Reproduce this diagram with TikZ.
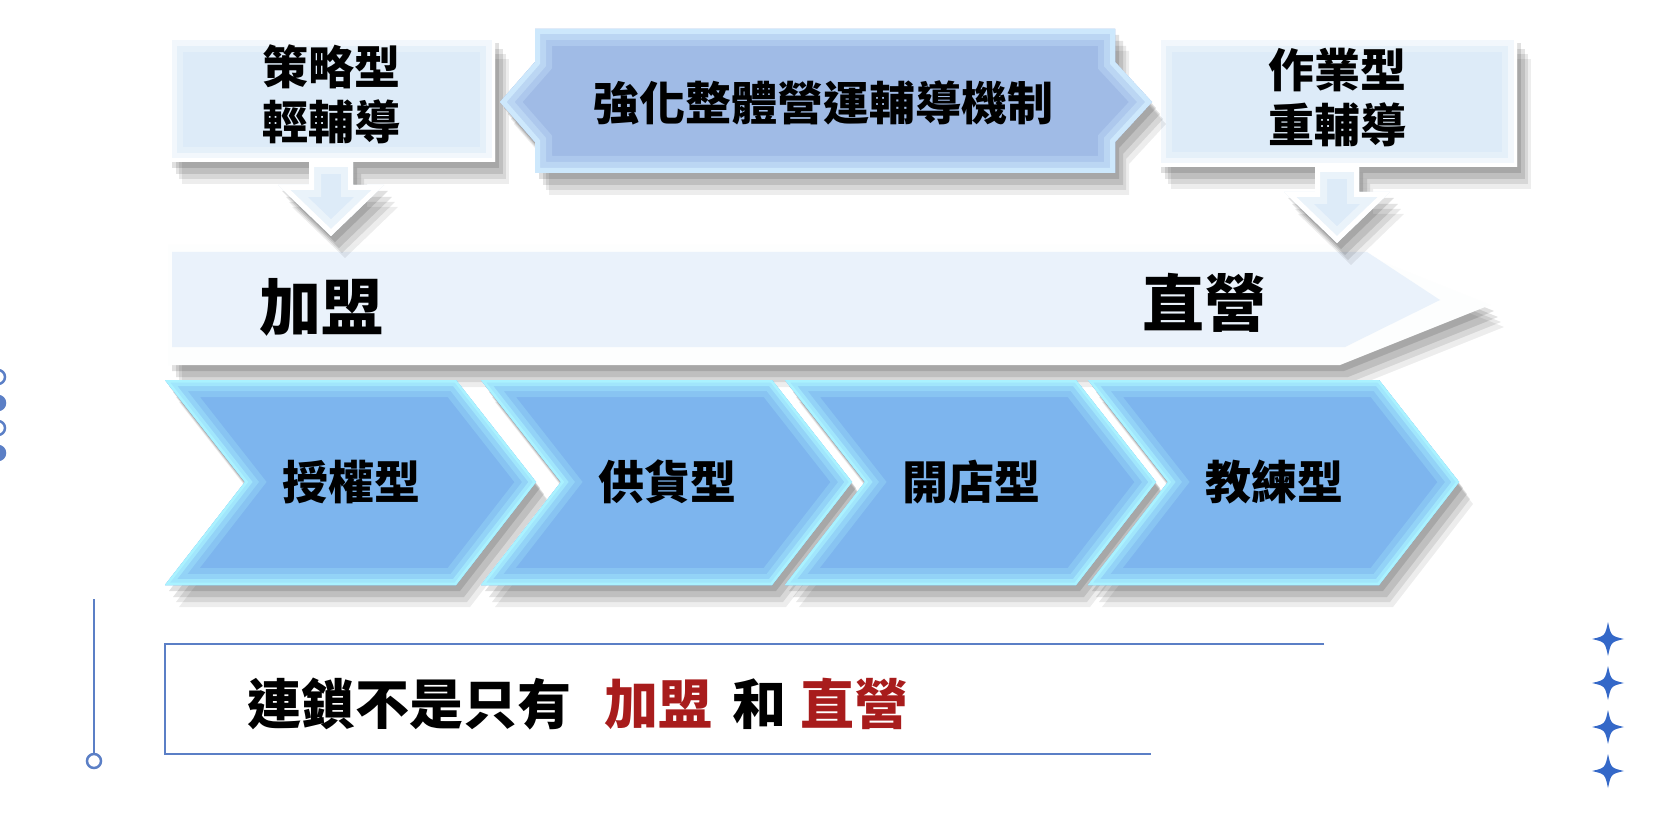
\documentclass[tikz,border=0pt]{standalone}
\usepackage{fontspec}
\setmainfont{Noto Sans CJK TC}
\usetikzlibrary{shadows}
\definecolor{chevblue}{RGB}{125,181,238}
\definecolor{chevrim}{RGB}{170,242,255}
\definecolor{midblue}{RGB}{160,187,230}
\definecolor{midrim}{RGB}{205,232,252}
\definecolor{paleblue}{RGB}{221,235,248}
\definecolor{bandblue}{RGB}{234,242,251}
\definecolor{lineblue}{RGB}{91,127,198}
\definecolor{starblue}{RGB}{52,104,200}
\definecolor{myred}{RGB}{168,28,28}

\newcommand{\chevpath}[1]{(#1,380) -- ++(291,0) -- ++(80,102) -- ++(-80,103) -- ++(-291,0) -- ++(80,-103) -- cycle}
\newcommand{\midpath}{(535,29) -- (1115,29) -- (1115,62) -- (1152,102) -- (1115,142) -- (1115,173) -- (535,173) -- (535,142) -- (500,102) -- (535,62) -- cycle}

\tikzset{
  softshadow/.style={drop shadow={shadow xshift=14pt, shadow yshift=-22pt, opacity=.07, fill=black},
                     drop shadow={shadow xshift=11pt, shadow yshift=-17pt, opacity=.09, fill=black},
                     drop shadow={shadow xshift=8pt, shadow yshift=-12pt, opacity=.11, fill=black},
                     drop shadow={shadow xshift=4pt, shadow yshift=-6pt, opacity=.12, fill=black}},
  boxtext/.style={font=\bfseries\fontsize{46}{55}\selectfont, align=center, inner sep=0pt},
  bigtext/.style={font=\bfseries\fontsize{62}{70}\selectfont, inner sep=0pt},
  deco/.style={draw=lineblue, line width=2.5pt},
}

\begin{document}
\begin{tikzpicture}[x=1pt, y=-1pt]
\useasboundingbox (0,0) rectangle (1668,834);
\fill[white] (0,0) rectangle (1668,834);

% band from franchise to direct
\path[softshadow] (168,245) -- (1340,245) -- (1490,305) -- (1340,365) -- (168,365) -- cycle;
\fill[white!94!paleblue] (168,245) -- (1340,245) -- (1490,305) -- (1340,365) -- (168,365) -- cycle;
\fill[bandblue] (172,252) -- (1367,252) -- (1440,300) -- (1345,347) -- (172,347) -- cycle;
\node[bigtext] (join) at (321,307) {加盟};
\node[bigtext] (direct) at (1204,303) {直營};

% chevrons
\foreach \x/\name [count=\i] in {165/授權型,481/供貨型,785/開店型,1088/教練型} {
  \path[softshadow] \chevpath{\x};
  \begin{scope}
    \clip \chevpath{\x};
    \fill[chevblue] \chevpath{\x};
    \draw[chevrim!25!chevblue, line width=34pt] \chevpath{\x};
    \draw[chevrim!50!chevblue, line width=22pt] \chevpath{\x};
    \draw[chevrim!80!chevblue, line width=12pt] \chevpath{\x};
    \draw[chevrim, line width=5pt] \chevpath{\x};
  \end{scope}
  \node[boxtext] (chev\i) at (\x+186,482) {\name};
}

% light coaching box
\path[softshadow] (168,37) rectangle (495,162);
\begin{scope}
  \clip (168,37) rectangle (495,162);
  \fill[paleblue] (168,37) rectangle (495,162);
  \draw[white, line width=30pt, opacity=.25] (168,37) rectangle (495,162);
  \draw[white, line width=18pt, opacity=.5] (168,37) rectangle (495,162);
  \draw[white, line width=7pt] (168,37) rectangle (495,162);
\end{scope}
\node[boxtext] (strat) at (331,94) {策略型\\輕輔導};

% heavy coaching box
\path[softshadow] (1157,37) rectangle (1517,167);
\begin{scope}
  \clip (1157,37) rectangle (1517,167);
  \fill[paleblue] (1157,37) rectangle (1517,167);
  \draw[white, line width=30pt, opacity=.25] (1157,37) rectangle (1517,167);
  \draw[white, line width=18pt, opacity=.5] (1157,37) rectangle (1517,167);
  \draw[white, line width=7pt] (1157,37) rectangle (1517,167);
\end{scope}
\node[boxtext] (oper) at (1337,98) {作業型\\重輔導};

% middle double arrow
\path[softshadow] \midpath;
\begin{scope}
  \clip \midpath;
  \fill[midblue] \midpath;
  \draw[midrim!30!midblue, line width=34pt] \midpath;
  \draw[midrim!60!midblue, line width=22pt] \midpath;
  \draw[midrim, line width=10pt] \midpath;
\end{scope}
\node[boxtext] (mech) at (823,103) {強化整體營運輔導機制};

% down arrows
\foreach \cx/\top/\base/\tip in {331/162/185/236, 1337/167/192/243} {
  \path[softshadow] (\cx-22,\top) -- (\cx+22,\top) -- (\cx+22,\base) -- (\cx+53,\base) -- (\cx,\tip) -- (\cx-53,\base) -- (\cx-22,\base) -- cycle;
  \begin{scope}
    \clip (\cx-22,\top) -- (\cx+22,\top) -- (\cx+22,\base) -- (\cx+53,\base) -- (\cx,\tip) -- (\cx-53,\base) -- (\cx-22,\base) -- cycle;
    \fill[paleblue] (\cx-60,\top) rectangle (\cx+60,\tip);
    \draw[white, line width=24pt, opacity=.4] (\cx-22,\top) -- (\cx+22,\top) -- (\cx+22,\base) -- (\cx+53,\base) -- (\cx,\tip) -- (\cx-53,\base) -- (\cx-22,\base) -- cycle;
    \draw[white, line width=10pt] (\cx-22,\top) -- (\cx+22,\top) -- (\cx+22,\base) -- (\cx+53,\base) -- (\cx,\tip) -- (\cx-53,\base) -- (\cx-22,\base) -- cycle;
  \end{scope}
}

% bottom frame
\coordinate (fa) at (1324,644);
\coordinate (fb) at (165,644);
\coordinate (fc) at (165,754);
\coordinate (fd) at (1151,754);
\draw[deco] (fa) -- (fb) -- (fc) -- (fd);
\coordinate (va) at (94,599);
\coordinate (vb) at (94,754);
\draw[deco] (va) -- (vb);
\draw[deco, fill=white] (94,761) circle (7);
\node[font=\bfseries\fontsize{54}{60}\selectfont, anchor=west, inner sep=0pt] (motto) at (247,704)
  {連鎖不是只有\hspace{33pt}\textcolor{myred}{加盟}\hspace{20pt}和\hspace{14pt}\textcolor{myred}{直營}};

% dots on the left
\foreach \y/\c in {377/white,403/lineblue,428/white,453/lineblue}
  \draw[deco, fill=\c] (-2,\y) circle (7);

% stars on the right
\foreach \y in {639,683,727,771}
  \fill[starblue] (1608,\y-17) .. controls (1611,\y-3) .. (1624,\y) .. controls (1611,\y+3) .. (1608,\y+17)
    .. controls (1605,\y+3) .. (1592,\y) .. controls (1605,\y-3) .. (1608,\y-17) -- cycle;
\end{tikzpicture}
\end{document}
